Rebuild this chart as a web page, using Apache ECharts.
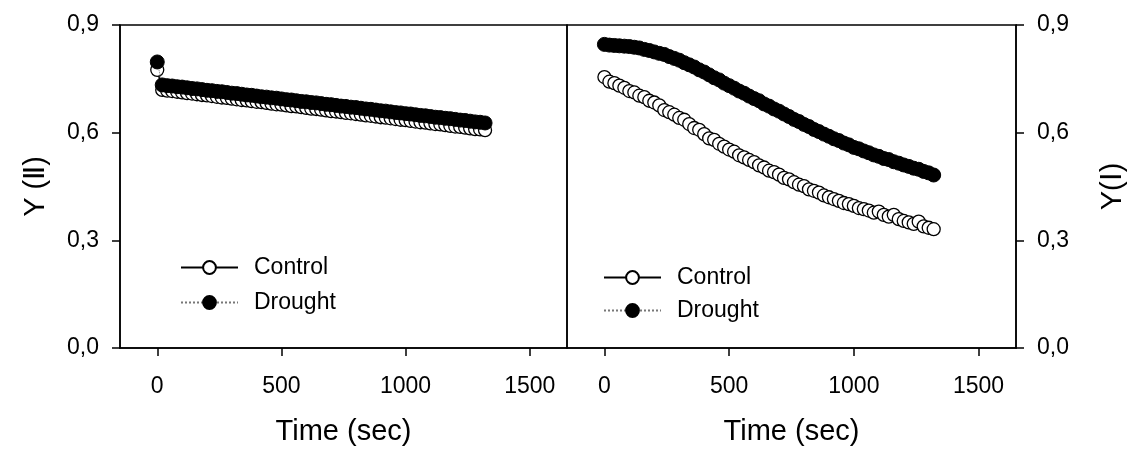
<!DOCTYPE html>
<html>
<head>
<meta charset="utf-8">
<script src="https://cdn.jsdelivr.net/npm/echarts@6/dist/echarts.min.js"></script>
<style>
html,body{margin:0;padding:0;background:#fff;}
#chart{width:1133px;height:456px;}
</style>
</head>
<body>
<div id="chart"></div>
<script>
const FONT = "'Liberation Sans', Arial, sans-serif";

// Time (sec) for all series
const time = [0,20,40,60,80,100,120,140,160,180,200,220,240,260,280,300,320,340,360,380,400,420,440,460,480,500,520,540,560,580,600,620,640,660,680,700,720,740,760,780,800,820,840,860,880,900,920,940,960,980,1000,1020,1040,1060,1080,1100,1120,1140,1160,1180,1200,1220,1240,1260,1280,1300,1320];

// Left panel: Y(II)
const leftControl = [0.775,0.719,0.717,0.716,0.714,0.712,0.710,0.709,0.707,0.705,0.704,0.702,0.700,0.698,0.697,0.695,0.693,0.691,0.690,0.688,0.686,0.685,0.683,0.681,0.679,0.678,0.676,0.674,0.673,0.671,0.669,0.667,0.666,0.664,0.662,0.660,0.659,0.657,0.655,0.654,0.652,0.650,0.648,0.647,0.645,0.643,0.642,0.640,0.638,0.636,0.635,0.633,0.631,0.629,0.628,0.626,0.624,0.623,0.621,0.619,0.617,0.616,0.614,0.612,0.610,0.609,0.607];
const leftDrought = [0.797,0.733,0.731,0.730,0.728,0.727,0.725,0.723,0.722,0.720,0.718,0.717,0.715,0.714,0.712,0.710,0.709,0.707,0.705,0.704,0.702,0.700,0.699,0.697,0.696,0.694,0.692,0.691,0.689,0.687,0.686,0.684,0.683,0.681,0.679,0.678,0.676,0.674,0.673,0.671,0.670,0.668,0.666,0.665,0.663,0.661,0.660,0.658,0.656,0.655,0.653,0.652,0.650,0.648,0.647,0.645,0.643,0.642,0.640,0.639,0.637,0.635,0.634,0.632,0.630,0.629,0.627];

// Right panel: Y(I)
const rightControl = [0.755,0.742,0.738,0.731,0.725,0.716,0.712,0.703,0.699,0.689,0.684,0.676,0.663,0.657,0.650,0.641,0.636,0.624,0.613,0.608,0.596,0.584,0.580,0.569,0.561,0.553,0.547,0.537,0.531,0.524,0.518,0.509,0.503,0.494,0.490,0.483,0.474,0.470,0.462,0.455,0.451,0.442,0.438,0.433,0.425,0.420,0.415,0.410,0.404,0.401,0.396,0.390,0.387,0.383,0.377,0.380,0.371,0.366,0.371,0.359,0.354,0.350,0.346,0.352,0.339,0.335,0.331];
const rightDrought = [0.846,0.844,0.843,0.842,0.841,0.840,0.838,0.836,0.832,0.829,0.825,0.821,0.818,0.812,0.807,0.802,0.795,0.789,0.783,0.775,0.769,0.761,0.753,0.747,0.738,0.731,0.724,0.716,0.710,0.702,0.695,0.689,0.680,0.674,0.666,0.660,0.652,0.645,0.637,0.631,0.623,0.617,0.609,0.603,0.596,0.590,0.583,0.578,0.571,0.566,0.559,0.555,0.549,0.544,0.538,0.534,0.528,0.525,0.519,0.515,0.510,0.506,0.501,0.498,0.492,0.488,0.482];

const xTicks = [0, 500, 1000, 1500];
const yTicks = [0, 0.3, 0.6, 0.9];
const seriesNames = ['Control', 'Drought'];

const pairs = (ys) => ys.map((y, i) => [time[i], y]);

const axisLineStyle = { lineStyle: { color: '#000', width: 1.5 } };
const tickStyle = { show: true, inside: false, length: 8, lineStyle: { color: '#000', width: 1.5 } };
const labelFont = { color: '#000', fontSize: 23, fontFamily: FONT };
const nameFont = { color: '#000', fontSize: 29, fontFamily: FONT };
const yFmt = v => v.toFixed(1).replace('.', ',');
const xFmt = v => String(Math.round(v));

function xAxis(gridIndex) {
  return {
    type: 'value', gridIndex, min: -150, max: 1650,
    name: 'Time (sec)', nameLocation: 'middle', nameGap: 69, nameTextStyle: nameFont,
    axisLine: { show: true, onZero: false, ...axisLineStyle },
    axisTick: { ...tickStyle, customValues: xTicks },
    axisLabel: { ...labelFont, margin: 27, customValues: xTicks, formatter: xFmt },
    splitLine: { show: false }
  };
}
function yAxis(gridIndex, position, name, gap) {
  return {
    type: 'value', gridIndex, position, min: 0, max: 0.9,
    name, nameLocation: 'middle', nameGap: gap, nameRotate: 90, nameTextStyle: nameFont,
    axisLine: { show: true, onZero: false, ...axisLineStyle },
    axisTick: { ...tickStyle, customValues: yTicks },
    axisLabel: { ...labelFont, margin: 21, customValues: yTicks, formatter: yFmt },
    splitLine: { show: false }
  };
}
function ctrlSeries(idx, ys) {
  return {
    name: seriesNames[0], type: 'line', xAxisIndex: idx, yAxisIndex: idx,
    data: pairs(ys), symbol: 'circle', symbolSize: 13, showSymbol: true,
    lineStyle: { color: '#000', width: 1.5, type: 'solid' },
    itemStyle: { color: '#fff', borderColor: '#000', borderWidth: 1.3 },
    animation: false, z: 2
  };
}
function drSeries(idx, ys) {
  return {
    name: seriesNames[1], type: 'line', xAxisIndex: idx, yAxisIndex: idx,
    data: pairs(ys), symbol: 'circle', symbolSize: 14, showSymbol: true,
    lineStyle: { color: '#777', width: 1, type: 'dotted' },
    itemStyle: { color: '#000', borderColor: '#000', borderWidth: 1 },
    animation: false, z: 3
  };
}
function legend(left, top, gap) {
  return {
    data: seriesNames, left, top, orient: 'vertical', padding: 0,
    itemWidth: 57, itemHeight: 16, itemGap: gap,
    textStyle: { color: '#000', fontSize: 23, fontFamily: FONT, padding: [0, 0, 0, 11] },
    selectedMode: false
  };
}

const chart = echarts.init(document.getElementById('chart'), null, { renderer: 'canvas' });
chart.setOption({
  animation: false,
  backgroundColor: '#fff',
  grid: [
    { left: 120, top: 25, width: 447, height: 323, show: true, borderColor: '#000', borderWidth: 1.5, containLabel: false },
    { left: 567, top: 25, width: 449, height: 323, show: true, borderColor: '#000', borderWidth: 1.5, containLabel: false }
  ],
  xAxis: [xAxis(0), xAxis(1)],
  yAxis: [yAxis(0, 'left', 'Y (Ⅱ)', 70), yAxis(1, 'right', 'Y(Ⅰ)', 82)],
  legend: [legend(180, 256, 12), legend(603, 266, 10)],
  series: [
    ctrlSeries(0, leftControl), drSeries(0, leftDrought),
    ctrlSeries(1, rightControl), drSeries(1, rightDrought)
  ]
});
</script>
</body>
</html>
